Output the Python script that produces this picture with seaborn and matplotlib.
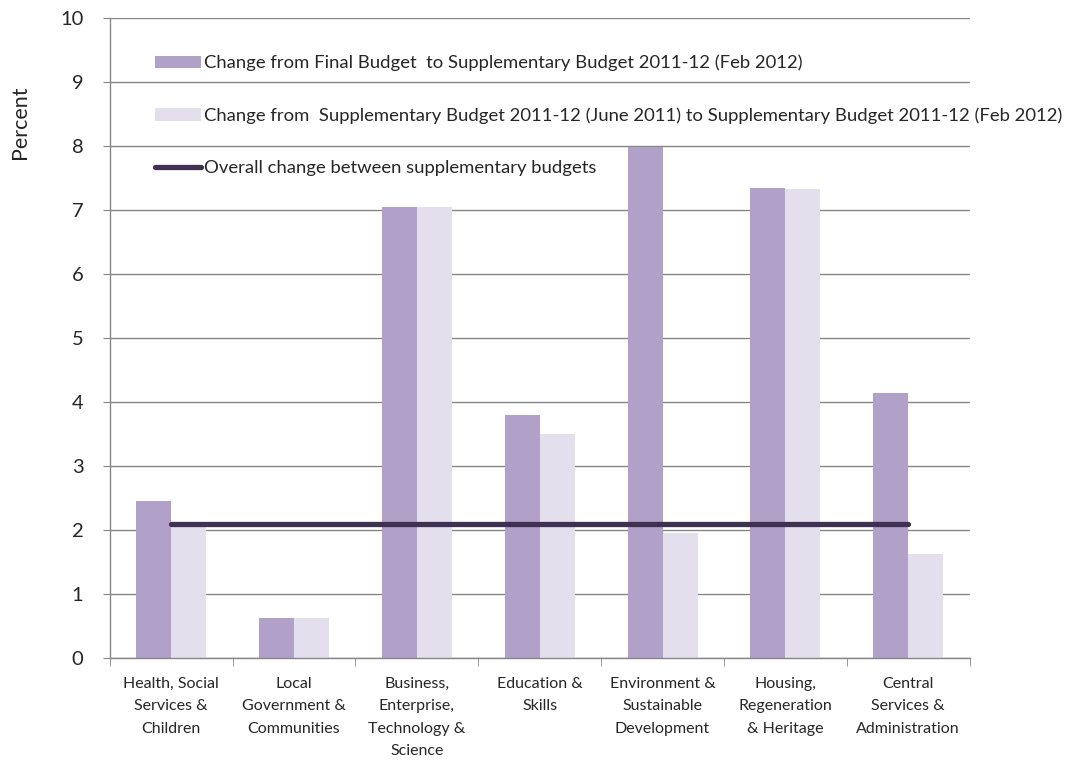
import pandas as pd
import matplotlib.pyplot as plt
import seaborn as sns

categories = ['Health, Social\nServices &\nChildren', 'Local\nGovernment &\nCommunities',
              'Business,\nEnterprise,\nTechnology &\nScience', 'Education &\nSkills',
              'Environment &\nSustainable\nDevelopment', 'Housing,\nRegeneration\n& Heritage',
              'Central\nServices &\nAdministration']
final_to_supp = [2.45, 0.63, 7.05, 3.79, 7.98, 7.35, 4.14]
june_to_feb = [2.06, 0.63, 7.05, 3.50, 1.95, 7.33, 1.62]
overall_change = 2.1

series_a = 'Change from Final Budget  to Supplementary Budget 2011-12 (Feb 2012)'
series_b = 'Change from  Supplementary Budget 2011-12 (June 2011) to Supplementary Budget 2011-12 (Feb 2012)'
line_label = 'Overall change between supplementary budgets'

df = pd.DataFrame({
    'category': categories * 2,
    'value': final_to_supp + june_to_feb,
    'series': [series_a] * len(categories) + [series_b] * len(categories),
})

sns.set_style('white')
plt.rcParams['font.family'] = ['Lato', 'DejaVu Sans']

grey = '#868686'
fig = plt.figure(figsize=(10.87, 7.65), dpi=100)
ax = fig.add_axes([0.101, 0.140, 0.791, 0.8365])

sns.barplot(data=df, x='category', y='value', hue='series',
            palette=['#B1A0C7', '#E4DFEC'], width=0.57, gap=0,
            saturation=1, linewidth=0, ax=ax, zorder=2)
ax.plot([0, len(categories) - 1], [overall_change, overall_change],
        color='#403152', lw=3.8, solid_capstyle='round', zorder=3, label=line_label)

ax.set_ylim(0, 10)
ax.set_xlim(-0.5, len(categories) - 0.5)
ax.set_yticks(range(0, 11))
ax.yaxis.grid(True, color=grey, lw=1)
ax.set_axisbelow(True)
ax.set_xlabel('')
ax.set_ylabel('')

for s in ['top', 'right']:
    ax.spines[s].set_visible(False)
for s in ['left', 'bottom']:
    ax.spines[s].set_color(grey)
    ax.spines[s].set_linewidth(1)

ax.tick_params(axis='y', which='major', left=True, length=5, color=grey,
               labelsize=14.5, pad=14)
ax.tick_params(axis='x', which='major', bottom=False, labelsize=11.5, pad=10)
for lbl in ax.get_xticklabels():
    lbl.set_linespacing(1.77)
ax.set_xticks([i + 0.5 for i in range(-1, len(categories))], minor=True)
ax.tick_params(axis='x', which='minor', bottom=True, length=6, color=grey)

handles, labels = ax.get_legend_handles_labels()
order = [labels.index(series_a), labels.index(series_b), labels.index(line_label)]
ax.legend([handles[i] for i in order], [labels[i] for i in order],
          loc='upper left', bbox_to_anchor=(0.044, 0.954), frameon=False,
          fontsize=13.3, handlelength=2.5, handleheight=0.65, handletextpad=0.15,
          labelspacing=1.95, borderaxespad=0)

fig.text(20 / 1087, 1 - 122 / 765, 'Percent', rotation=90, ha='center', va='center',
         fontsize=15.5)

fig.savefig('out.png', dpi=100)
